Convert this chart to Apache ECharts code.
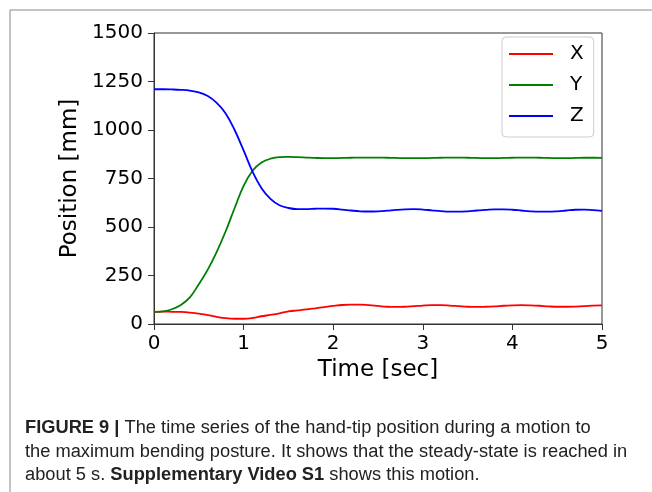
<!DOCTYPE html>
<html>
<head>
<meta charset="utf-8">
<script src="https://cdn.jsdelivr.net/npm/echarts@6/dist/echarts.min.js"></script>
<style>html,body{margin:0;padding:0;background:#fff;}#c{width:652px;height:492px;}</style>
</head>
<body>
<div id="c"></div>
<script>
const timeSec = [0,0.1,0.2,0.3,0.4,0.5,0.6,0.7,0.8,0.9,1.0,1.1,1.2,1.3,1.4,1.5,1.6,1.7,1.8,1.9,2.0,2.1,2.2,2.3,2.4,2.5,2.6,2.7,2.8,2.9,3.0,3.1,3.2,3.3,3.4,3.5,3.6,3.7,3.8,3.9,4.0,4.1,4.2,4.3,4.4,4.5,4.6,4.7,4.8,4.9,5.0];
const xPos = [63,64,63,62,59,54,46,37,30,27,27,31,40,47,55,65,70,75,81,87,93,98,100,100,97,93,89,88,89,92,95,97,97,95,92,89,88,89,91,94,96,97,96,94,91,89,89,90,92,95,96];
const yPos = [62,65,76,98,137,205,280,372,478,598,712,790,832,852,860,861,860,858,856,855,855,856,857,858,858,858,857,856,855,855,855,856,857,858,858,857,856,855,855,856,857,858,858,857,856,855,855,856,857,857,856];
const zPos = [1210,1210,1209,1207,1203,1194,1175,1140,1085,1000,895,785,700,645,612,598,592,592,594,595,594,590,585,581,580,581,584,588,591,592,590,586,582,579,579,581,585,588,591,591,589,585,581,579,579,581,585,589,590,587,583];
const yTicks = [0,250,500,750,1000,1250,1500];
const xTicks = [0,1,2,3,4,5];
const seriesNames = ['X','Y','Z'];
const seriesColors = ['#ff0000','#008000','#0000ff'];

const pairs = arr => timeSec.map((t,i)=>[t,arr[i]]);
const dataSets = [xPos,yPos,zPos];

const chart = echarts.init(document.getElementById('c'), null, {renderer:'canvas'});
const axisFont = 'DejaVu Sans';
chart.setOption({
  animation:false,
  backgroundColor:'#fff',
  grid:{left:154,right:50,top:33,bottom:168,show:true,borderColor:'#333',borderWidth:1,containLabel:false},
  xAxis:{type:'value',min:xTicks[0],max:xTicks[xTicks.length-1],interval:1,
    name:'Time [sec]',nameLocation:'middle',nameGap:35,
    nameTextStyle:{fontFamily:axisFont,fontSize:23,color:'#000'},
    axisLine:{show:true,lineStyle:{color:'#333',width:1}},
    axisTick:{show:true,length:6,lineStyle:{color:'#333'}},
    axisLabel:{fontFamily:axisFont,fontSize:20,color:'#000',margin:10,formatter:v=>String(v)},
    splitLine:{show:false}},
  yAxis:{type:'value',min:yTicks[0],max:yTicks[yTicks.length-1],interval:250,
    name:'Position [mm]',nameLocation:'middle',nameGap:57,
    nameTextStyle:{fontFamily:axisFont,fontSize:23,color:'#000'},
    axisLine:{show:true,lineStyle:{color:'#333',width:1}},
    axisTick:{show:true,length:6,lineStyle:{color:'#333'}},
    axisLabel:{fontFamily:axisFont,fontSize:20,color:'#000',margin:11,formatter:v=>String(v)},
    splitLine:{show:false}},
  legend:{show:true,orient:'vertical',left:502,top:37,
    padding:[7,10,11,7],itemGap:11,itemWidth:44,itemHeight:2,icon:'rect',
    backgroundColor:'#fff',borderColor:'#cccccc',borderWidth:1,borderRadius:4,
    textStyle:{fontFamily:axisFont,fontSize:20,color:'#000',lineHeight:20,padding:[0,0,0,12]},
    data:seriesNames.map((n,i)=>({name:n,icon:'rect',itemStyle:{color:seriesColors[i]}}))},
  series:seriesNames.map((n,i)=>({
    name:n,type:'line',data:pairs(dataSets[i]),symbol:'none',smooth:0.4,
    lineStyle:{color:seriesColors[i],width:1.8},itemStyle:{color:seriesColors[i]}
  })),
  graphic:[
    {type:'line',shape:{x1:10,y1:10,x2:652,y2:10},style:{stroke:'#888',lineWidth:1}},
    {type:'line',shape:{x1:10,y1:10,x2:10,y2:492},style:{stroke:'#888',lineWidth:1}},
    {type:'text',left:25,top:419,scaleX:1.015,style:{
      text:'{b|FIGURE 9 |} The time series of the hand-tip position during a motion to',
      fontFamily:'Liberation Sans',fontSize:18,fill:'#222',
      rich:{b:{fontFamily:'Liberation Sans',fontSize:18,fontWeight:'bold',fill:'#222'}}}},
    {type:'text',left:25,top:443,scaleX:1.015,style:{
      text:'the maximum bending posture. It shows that the steady-state is reached in',
      fontFamily:'Liberation Sans',fontSize:18,fill:'#222'}},
    {type:'text',left:25,top:466,scaleX:1.015,style:{
      text:'about 5 s. {b|Supplementary Video S1} shows this motion.',
      fontFamily:'Liberation Sans',fontSize:18,fill:'#222',
      rich:{b:{fontFamily:'Liberation Sans',fontSize:18,fontWeight:'bold',fill:'#222'}}}}
  ]
});
</script>
</body>
</html>
